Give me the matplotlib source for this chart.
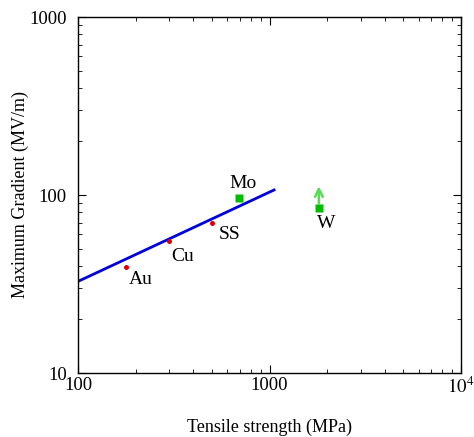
import matplotlib.pyplot as plt
from matplotlib.ticker import FixedLocator, FixedFormatter, LogLocator, NullFormatter

plt.rcParams['font.family'] = ['Liberation Serif', 'DejaVu Serif']
plt.rcParams['mathtext.fontset'] = 'stix'

# measured samples (red) and other metals (green)
red_names = ['Au', 'Cu', 'SS']
red_strength = [178, 299, 501]
red_gradient = [39.4, 55.1, 69.6]

green_names = ['Mo', 'W']
green_strength = [695, 1810]
green_gradient = [96.5, 84.5]
w_arrow_top = 112

# fit line
fit_x = [100, 1056]
fit_y = [32.7, 106.7]

fig = plt.figure(figsize=(4.74, 4.37), dpi=100)
ax = fig.add_axes([78 / 474, 1 - 373 / 437, 383 / 474, 356 / 437])

ax.plot(fit_x, fit_y, color='#0000dd', lw=2)
ax.plot(red_strength, red_gradient, 'o', color='#dd0000', ms=3.6, mec='none')
ax.plot(green_strength, green_gradient, 's', color='#00bb00', ms=5.8, mec='none')
ax.annotate('', xy=(green_strength[1], w_arrow_top), xytext=(green_strength[1], green_gradient[1]),
            arrowprops=dict(arrowstyle='->', color='#55dd55', lw=1.8, mutation_scale=14, shrinkA=3, shrinkB=0))

# label offsets in points
label_off = {'Au': (11, -9), 'Cu': (10, -11), 'SS': (13, -8.5), 'Mo': (2.5, 10.5), 'W': (5.5, -11.5)}
for n, x, y in zip(red_names + green_names, red_strength + green_strength, red_gradient + green_gradient):
    ax.annotate(n, (x, y), xytext=label_off[n], textcoords='offset points',
                ha='center', va='center', fontsize=14)

ax.set_xscale('log')
ax.set_yscale('log')
ax.set_xlim(100, 1e4)
ax.set_ylim(10, 1000)

ax.xaxis.set_major_locator(FixedLocator([100, 1000, 1e4]))
ax.xaxis.set_major_formatter(FixedFormatter(['100', '1000', '$10^4$']))
ax.yaxis.set_major_locator(FixedLocator([10, 100, 1000]))
ax.yaxis.set_major_formatter(FixedFormatter(['10', '100', '1000']))
for a in (ax.xaxis, ax.yaxis):
    a.set_minor_locator(LogLocator(base=10, subs=range(2, 10)))
    a.set_minor_formatter(NullFormatter())

ax.tick_params(which='both', direction='in', top=True, right=True, labelsize=13.5)
ax.tick_params(axis='x', pad=3)
ax.tick_params(axis='y', pad=8)
ax.tick_params(which='major', length=6)
ax.tick_params(which='minor', length=3)
for s in ax.spines.values():
    s.set_linewidth(1)

ax.set_xlabel('Tensile strength (MPa)', fontsize=13, labelpad=15)
ax.set_ylabel('Maximum Gradient (MV/m)', fontsize=13, labelpad=0)

fig.savefig('out.png', dpi=100)
